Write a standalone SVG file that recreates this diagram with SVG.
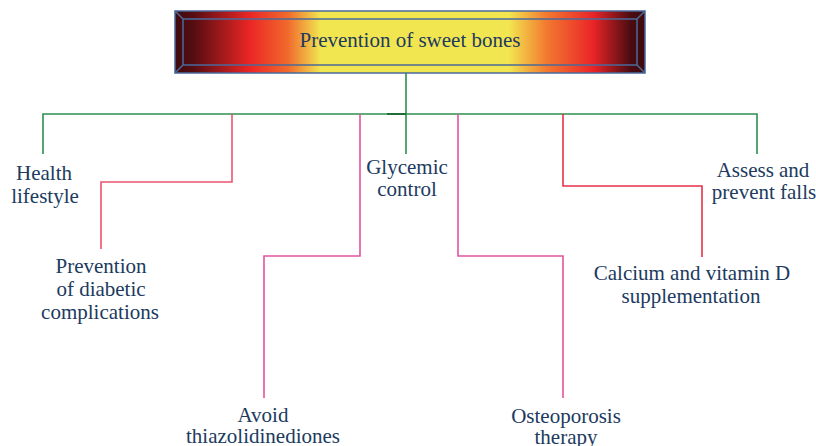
<svg xmlns="http://www.w3.org/2000/svg" width="816" height="446" viewBox="0 0 816 446">
  <defs>
    <linearGradient id="titleGrad" x1="175" y1="0" x2="645" y2="0" gradientUnits="userSpaceOnUse">
      <stop offset="0" stop-color="#3e0a0e"/>
      <stop offset="0.04" stop-color="#560d12"/>
      <stop offset="0.16" stop-color="#ec2626"/>
      <stop offset="0.24" stop-color="#f06a2c"/>
      <stop offset="0.31" stop-color="#f2e650"/>
      <stop offset="0.71" stop-color="#f2e650"/>
      <stop offset="0.79" stop-color="#f27a30"/>
      <stop offset="0.89" stop-color="#ea2428"/>
      <stop offset="0.97" stop-color="#4a0c10"/>
      <stop offset="1" stop-color="#3e0a0e"/>
    </linearGradient>
  </defs>
  <style>
    .lbl { font-family: "Liberation Serif", "Times New Roman", serif; font-size: 21px; fill: #203a60; text-anchor: middle; }
    .conn { fill: none; stroke-width: 1.6; }
    .green { stroke: #2f8f4f; }
    .red1 { stroke: #ec5470; }
    .pink { stroke: #e4539e; }
    .red2 { stroke: #e8314a; }
    .frame { fill: none; stroke: #4a6a9a; stroke-width: 1.5; }
  </style>
  <rect width="816" height="446" fill="#ffffff"/>

  <g id="connectors">
    <path class="conn green" d="M406 73 V154"/>
    <path class="conn green" d="M43 154 V114 H757 V154"/>
    <path class="conn red1" d="M232 114 V182 H101 V249"/>
    <path class="conn pink" d="M360 114 V256 H264 V398"/>
    <path class="conn pink" d="M458 114 V256 H563 V398"/>
    <path class="conn red2" d="M563 114 V186 H702 V257"/>
    <path d="M387 114 H406" stroke="#1f6e38" stroke-width="2"/>
  </g>

  <g id="title">
    <rect x="175" y="11" width="470" height="62" fill="url(#titleGrad)"/>
    <rect class="frame" x="175" y="11" width="470" height="62"/>
    <rect class="frame" x="183" y="19" width="454" height="46"/>
    <path class="frame" d="M175 11 L183 19 M645 11 L637 19 M175 73 L183 65 M645 73 L637 65"/>
    <text class="lbl" x="410" y="47">Prevention of sweet bones</text>
  </g>

  <g id="health">
    <text class="lbl" x="44" y="180">Health</text>
    <text class="lbl" x="45" y="203">lifestyle</text>
  </g>
  <g id="diabetic">
    <text class="lbl" x="101" y="273">Prevention</text>
    <text class="lbl" x="101" y="296">of diabetic</text>
    <text class="lbl" x="100" y="319">complications</text>
  </g>
  <g id="tzd">
    <text class="lbl" x="263" y="422">Avoid</text>
    <text class="lbl" x="263" y="443">thiazolidinediones</text>
  </g>
  <g id="glycemic">
    <text class="lbl" x="407" y="174">Glycemic</text>
    <text class="lbl" x="407" y="196">control</text>
  </g>
  <g id="osteoporosis">
    <text class="lbl" x="566" y="423">Osteoporosis</text>
    <text class="lbl" x="566" y="444">therapy</text>
  </g>
  <g id="calcium">
    <text class="lbl" x="692" y="280">Calcium and vitamin D</text>
    <text class="lbl" x="691" y="303">supplementation</text>
  </g>
  <g id="falls">
    <text class="lbl" x="763" y="177">Assess and</text>
    <text class="lbl" x="764" y="199">prevent falls</text>
  </g>
</svg>
